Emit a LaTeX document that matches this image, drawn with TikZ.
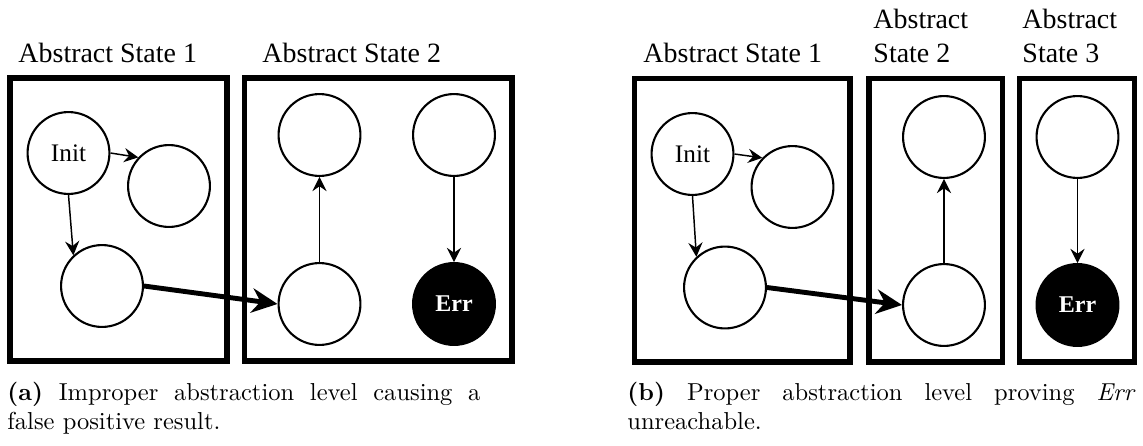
\documentclass[tikz,border=0pt]{standalone}
\usepackage{fontspec}
\newfontfamily\timesfont{Liberation Serif}
\usetikzlibrary{arrows.meta}
\begin{document}
\begin{tikzpicture}[x=0.408pt, y=-0.408pt,
  statebox/.style={draw, line width=2.4pt},
  st/.style={circle, draw, line width=0.85pt, minimum size=33.4pt, inner sep=0pt,
    font=\timesfont\fontsize{10.3}{12}\selectfont},
  errst/.style={st, fill=black, text=white,
    font=\timesfont\bfseries\fontsize{9.8}{12}\selectfont},
  tr/.style={-{Stealth[length=5.8pt, width=5.8pt, inset=2pt]}, line width=0.6pt},
  jump/.style={-{Stealth[length=10.5pt, width=10pt, inset=3.5pt]}, line width=2pt},
  boxlabel/.style={anchor=base west, inner sep=0pt, align=left,
    font=\timesfont\fontsize{11.4}{13.5}\selectfont},
  caption/.style={anchor=base west, inner sep=0pt, align=justify,
    font=\fontsize{10}{12}\selectfont}
]
\useasboundingbox (0,0) rectangle (1143,446);

% ---------- (a) ----------
\draw[statebox] (10,78) rectangle (227,361);
\draw[statebox] (244.5,78) rectangle (512,361);
\node[boxlabel] (la1) at (18,62) {Abstract State 1};
\node[boxlabel] (la2) at (262,62) {Abstract State 2};

\node[st] (ainit) at (68.5,153) {Init};
\node[st] (ac2) at (169,186) {};
\node[st] (ac3) at (102,286) {};
\node[st] (am1) at (319.5,135) {};
\node[st] (am2) at (319.5,304) {};
\node[st] (ar1) at (454,135) {};
\node[errst] (aerr) at (454,304) {Err};

\draw[tr] (ainit.east) -- (ac2.137);
\draw[tr] (ainit.south) -- (ac3.133);
\draw[tr] (am2.north) -- (am1.south);
\draw[tr] (ar1.south) -- (aerr.north);
\draw[jump] (ac3.east) -- (am2.west);

\node[caption, text width=193pt] (capa) at (7,400)
  {\textbf{(a)} Improper abstraction level causing a\linebreak false positive result.};

% ---------- (b) ----------
\draw[statebox] (634.5,78.5) rectangle (850,362);
\draw[statebox] (869,78.5) rectangle (1002.5,362);
\draw[statebox] (1019.5,78.5) rectangle (1134.5,362);
\node[boxlabel] (lb1) at (643,62) {Abstract State 1};
\node[boxlabel] (lb2) at (873,62) {Abstract\\State 2};
\node[boxlabel] (lb3) at (1022,62) {Abstract\\State 3};

\node[st] (binit) at (692.5,154) {Init};
\node[st] (bc2) at (792.5,187) {};
\node[st] (bc3) at (725,287.5) {};
\node[st] (bm1) at (944,137) {};
\node[st] (bm2) at (944,305) {};
\node[st] (br1) at (1077.5,137) {};
\node[errst] (berr) at (1077.5,305) {Err};

\draw[tr] (binit.east) -- (bc2.136);
\draw[tr] (binit.south) -- (bc3.133);
\draw[tr] (bm2.north) -- (bm1.south);
\draw[tr] (br1.south) -- (berr.north);
\draw[jump] (bc3.east) -- (bm2.west);

\node[caption, text width=207.3pt] (capb) at (627,400)
  {\textbf{(b)} Proper abstraction level proving \textit{Err}\linebreak unreachable.};
\end{tikzpicture}
\end{document}
